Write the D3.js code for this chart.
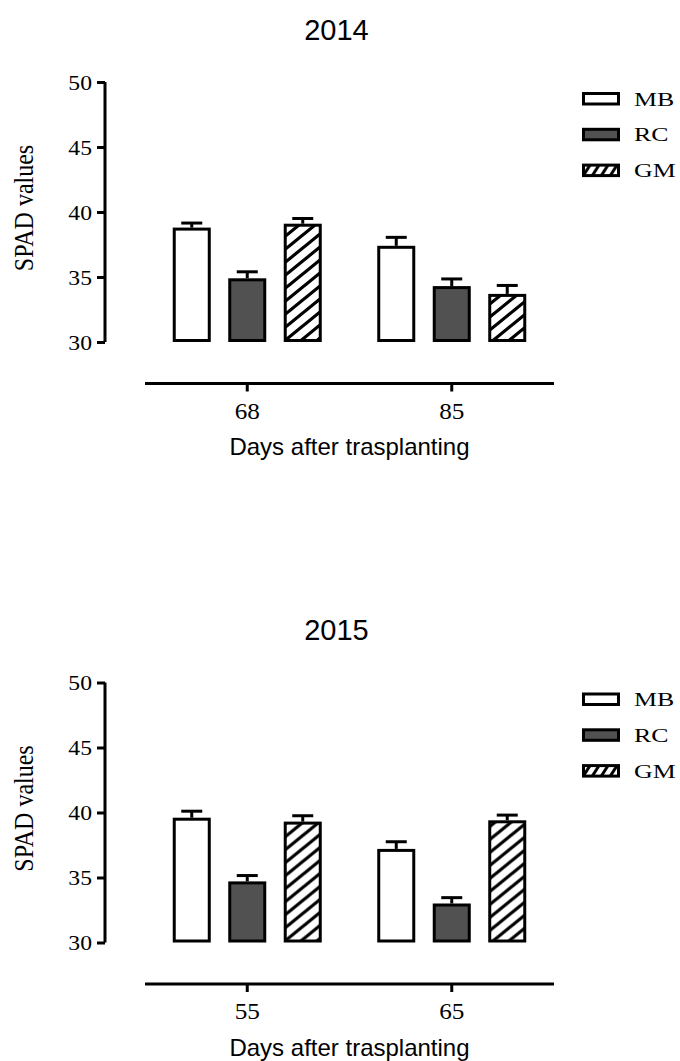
<!DOCTYPE html>
<html>
<head>
<meta charset="utf-8">
<script src="https://cdn.jsdelivr.net/npm/d3@7"></script>
<style>
  html, body { margin: 0; padding: 0; background: #fff; }
  svg { display: block; }
</style>
</head>
<body>
<svg id="chart" width="680" height="1061"></svg>
<script>
// SPAD readings by sampling day, three treatments per day, two seasons
const seriesNames = ["MB", "RC", "GM"];
const yTicks = [30, 35, 40, 45, 50];

const days2014 = [68, 85];
const mb2014 = [38.8, 37.4];
const rc2014 = [34.9, 34.3];
const gm2014 = [39.1, 33.7];
const mb2014Err = [0.35, 0.65];
const rc2014Err = [0.5, 0.55];
const gm2014Err = [0.4, 0.65];

const days2015 = [55, 65];
const mb2015 = [39.6, 37.2];
const rc2015 = [34.7, 33.0];
const gm2015 = [39.3, 39.4];
const mb2015Err = [0.5, 0.55];
const rc2015Err = [0.45, 0.45];
const gm2015Err = [0.45, 0.4];

const panels = [
  { title: "2014", days: days2014, values: [mb2014, rc2014, gm2014], errors: [mb2014Err, rc2014Err, gm2014Err], dy: 0 },
  { title: "2015", days: days2015, values: [mb2015, rc2015, gm2015], errors: [mb2015Err, rc2015Err, gm2015Err], dy: 600.5 }
];

const svg = d3.select("#chart");
const defs = svg.append("defs");

function hatch(id, w, h, sw) {
  const p = defs.append("pattern")
    .attr("id", id)
    .attr("patternUnits", "userSpaceOnUse")
    .attr("width", w).attr("height", h);
  p.append("rect").attr("width", w).attr("height", h).attr("fill", "#fff");
  p.append("path")
    .attr("d", `M0,${h} L${w},0 M${-w * 0.3},${h * 0.3} L${w * 0.3},${-h * 0.3} M${w * 0.7},${h * 1.3} L${w * 1.3},${h * 0.7}`)
    .attr("stroke", "#000").attr("stroke-width", sw).attr("fill", "none");
}
hatch("hatchBar", 16, 13, 3.2);
hatch("hatchKey", 9, 14, 3);

const fills = { MB: "#ffffff", RC: "#515151", GM: "url(#hatchBar)" };
const keyFills = { MB: "#ffffff", RC: "#515151", GM: "url(#hatchKey)" };

const serif = "'Liberation Serif', 'Times New Roman', serif";
const sans = "'Liberation Sans', Arial, sans-serif";
const SW = 3;

panels.forEach(panel => {
  const g = svg.append("g").attr("transform", `translate(0,${panel.dy})`);

  const y = d3.scaleLinear().domain([30, 50]).range([342, 82]);
  const x0 = d3.scaleBand().domain(panel.days).range([145, 554]).padding(0);
  const x1 = d3.scaleBand().domain(seriesNames).range([0, x0.bandwidth()])
    .paddingInner(0.315).paddingOuter(0.5);

  // title
  g.append("text")
    .attr("x", 336.5).attr("y", 39.5)
    .attr("text-anchor", "middle")
    .style("font-family", sans).style("font-size", "29px")
    .text(panel.title);

  // y axis
  const yAxis = g.append("g")
    .attr("transform", "translate(105,0)")
    .call(d3.axisLeft(y).tickValues(yTicks).tickSize(8).tickPadding(5).tickFormat(d3.format("d")));
  yAxis.select(".domain").attr("d", `M0,${y(50)}V${y(30)}`).attr("stroke-width", SW).attr("stroke", "#000");
  yAxis.selectAll(".tick line").attr("stroke-width", SW).attr("stroke", "#000");
  yAxis.selectAll(".tick text")
    .attr("x", null)
    .attr("transform", "translate(-13,0) scale(1.1,1)")
    .attr("dy", "0.33em")
    .style("font-family", serif).style("font-size", "21.5px").attr("fill", "#000");

  // y axis label
  g.append("text")
    .attr("transform", "translate(33,208) rotate(-90) scale(1,1.18)")
    .attr("text-anchor", "middle")
    .style("font-family", serif).style("font-size", "24px")
    .text("SPAD values");

  // x axis
  const xAxis = g.append("g")
    .attr("transform", "translate(0,383.5)")
    .call(d3.axisBottom(x0).tickSize(8).tickSizeOuter(0));
  xAxis.select(".domain").attr("d", `M145,0H554`).attr("stroke-width", SW).attr("stroke", "#000");
  xAxis.selectAll(".tick line").attr("stroke-width", SW).attr("stroke", "#000");
  xAxis.selectAll(".tick text")
    .attr("y", null).attr("dy", null)
    .attr("transform", "translate(0,35) scale(1.12,1)")
    .style("font-family", serif).style("font-size", "22.5px").attr("fill", "#000");

  g.append("text")
    .attr("x", 349.5).attr("y", 455)
    .attr("text-anchor", "middle")
    .style("font-family", sans).style("font-size", "24px")
    .text("Days after trasplanting");

  // bars with error bars
  const rows = [];
  panel.days.forEach((d, i) => {
    seriesNames.forEach((s, k) => {
      rows.push({ day: d, series: s, value: panel.values[k][i], err: panel.errors[k][i] });
    });
  });

  const bar = g.selectAll(".bar").data(rows).join("g").attr("class", "bar");

  bar.append("line")
    .attr("x1", r => x0(r.day) + x1(r.series) + x1.bandwidth() / 2)
    .attr("x2", r => x0(r.day) + x1(r.series) + x1.bandwidth() / 2)
    .attr("y1", r => y(r.value))
    .attr("y2", r => y(r.value + r.err))
    .attr("stroke", "#000").attr("stroke-width", SW);
  bar.append("line")
    .attr("x1", r => x0(r.day) + x1(r.series) + x1.bandwidth() / 2 - 10.5)
    .attr("x2", r => x0(r.day) + x1(r.series) + x1.bandwidth() / 2 + 10.5)
    .attr("y1", r => y(r.value + r.err))
    .attr("y2", r => y(r.value + r.err))
    .attr("stroke", "#000").attr("stroke-width", SW);

  bar.append("rect")
    .attr("x", r => x0(r.day) + x1(r.series) + SW / 2)
    .attr("width", x1.bandwidth() - SW)
    .attr("y", r => y(r.value) + SW / 2)
    .attr("height", r => y(30) - y(r.value) - SW)
    .attr("fill", r => fills[r.series])
    .attr("stroke", "#000").attr("stroke-width", SW);

  // legend
  const key = g.selectAll(".key").data(seriesNames).join("g")
    .attr("class", "key")
    .attr("transform", (s, i) => `translate(582,${92 + i * 35.8})`);
  key.append("rect")
    .attr("x", SW / 2).attr("y", SW / 2)
    .attr("width", 38 - SW).attr("height", 13.5 - SW)
    .attr("fill", s => keyFills[s])
    .attr("stroke", "#000").attr("stroke-width", SW);
  key.append("text")
    .attr("transform", "translate(52,13.5) scale(1.36,1)")
    .style("font-family", serif).style("font-size", "19px")
    .text(s => s);
});
</script>
</body>
</html>
